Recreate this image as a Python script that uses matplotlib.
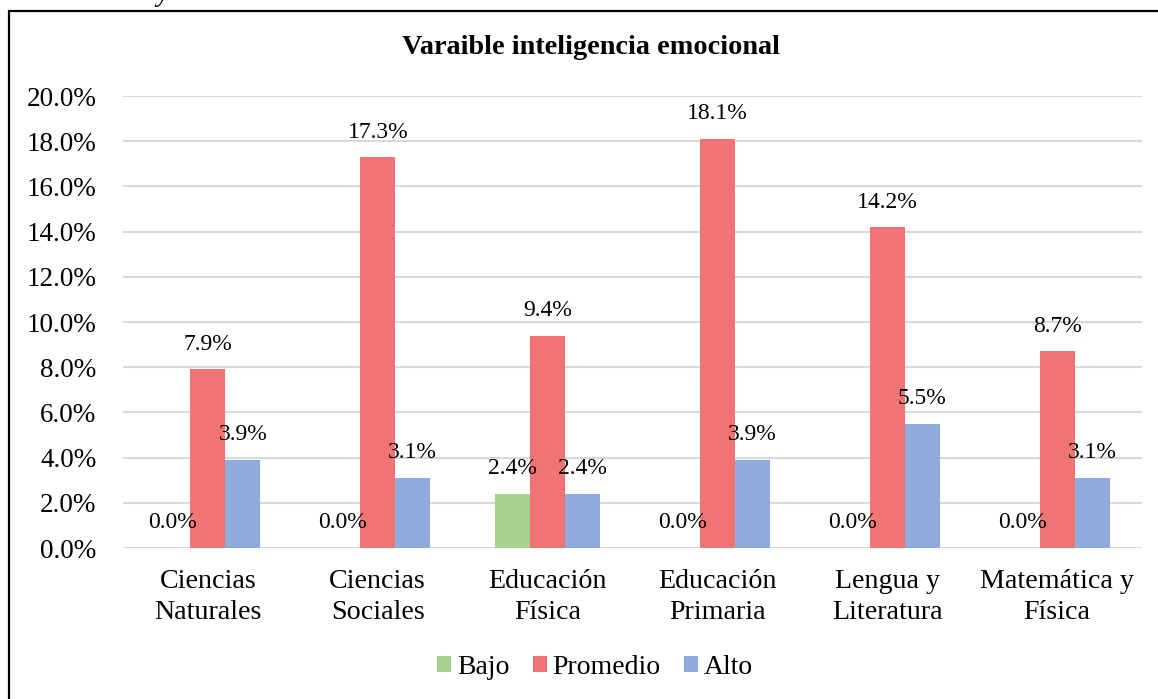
import matplotlib as mpl
mpl.use('Agg')
import matplotlib.pyplot as plt
import numpy as np
from matplotlib.patches import Rectangle

categorias = ["Ciencias\nNaturales", "Ciencias\nSociales", "Educación\nFísica",
              "Educación\nPrimaria", "Lengua y\nLiteratura", "Matemática y\nFísica"]
bajo = [0.0, 0.0, 2.4, 0.0, 0.0, 0.0]
promedio = [7.9, 17.3, 9.4, 18.1, 14.2, 8.7]
alto = [3.9, 3.1, 2.4, 3.9, 5.5, 3.1]
series = ["Bajo", "Promedio", "Alto"]
colores = ["#A9D18E", "#F07474", "#8FAADC"]

plt.rcParams['font.family'] = ['Liberation Serif', 'DejaVu Serif']

fig = plt.figure(figsize=(11.58, 6.99), dpi=100)
ax = fig.add_axes([123/1158, 1 - 548/699, (1142 - 123)/1158, (548 - 96)/699])

x = np.arange(len(categorias))
w = 0.206
for i, (vals, nombre, col) in enumerate(zip([bajo, promedio, alto], series, colores)):
    pos = x + (i - 1) * w
    ax.bar(pos, vals, w, color=col, label=nombre, zorder=3)
    for px_, v in zip(pos, vals):
        ax.annotate(f"{v:.1f}%", (px_, v), xytext=(0, 18), textcoords='offset points',
                    ha='center', va='center', fontsize=17, zorder=4)

ax.set_xlim(-0.5, len(categorias) - 0.5)
ax.set_ylim(0, 20)
ax.set_yticks(np.arange(0, 21, 2))
ax.set_yticklabels([f"{t:.1f}%" for t in np.arange(0, 21, 2)], fontsize=19.5)
ax.set_xticks(x)
ax.set_xticklabels(categorias, fontsize=20.2, linespacing=1.3)
ax.tick_params(axis='both', length=0)
ax.tick_params(axis='y', pad=19)
ax.tick_params(axis='x', pad=15)
ax.grid(axis='y', color='#D9D9D9', linewidth=1.5, zorder=0)
for s in ax.spines.values():
    s.set_visible(False)

fig.text(591/1158, 1 - 47/699, "Varaible inteligencia emocional", ha='center', va='center',
         fontsize=20.3, fontweight='bold')

fig.legend(loc='center', bbox_to_anchor=(595/1158, 1 - 667/699), ncol=3, frameon=False,
           fontsize=20, handlelength=0.5, handleheight=0.5, handletextpad=0.2,
           columnspacing=0.85)

# marco del gráfico
fig.patches.append(Rectangle((9/1158, -0.1), 1.2, 1 - 11/699 + 0.1, transform=fig.transFigure,
                             fill=False, edgecolor='black', linewidth=1.6, zorder=10))
fig.text(162/1158, 1 - 1/699, "y", style='italic', fontsize=19.5, ha='center', va='baseline')

fig.savefig("out.png", dpi=100)
